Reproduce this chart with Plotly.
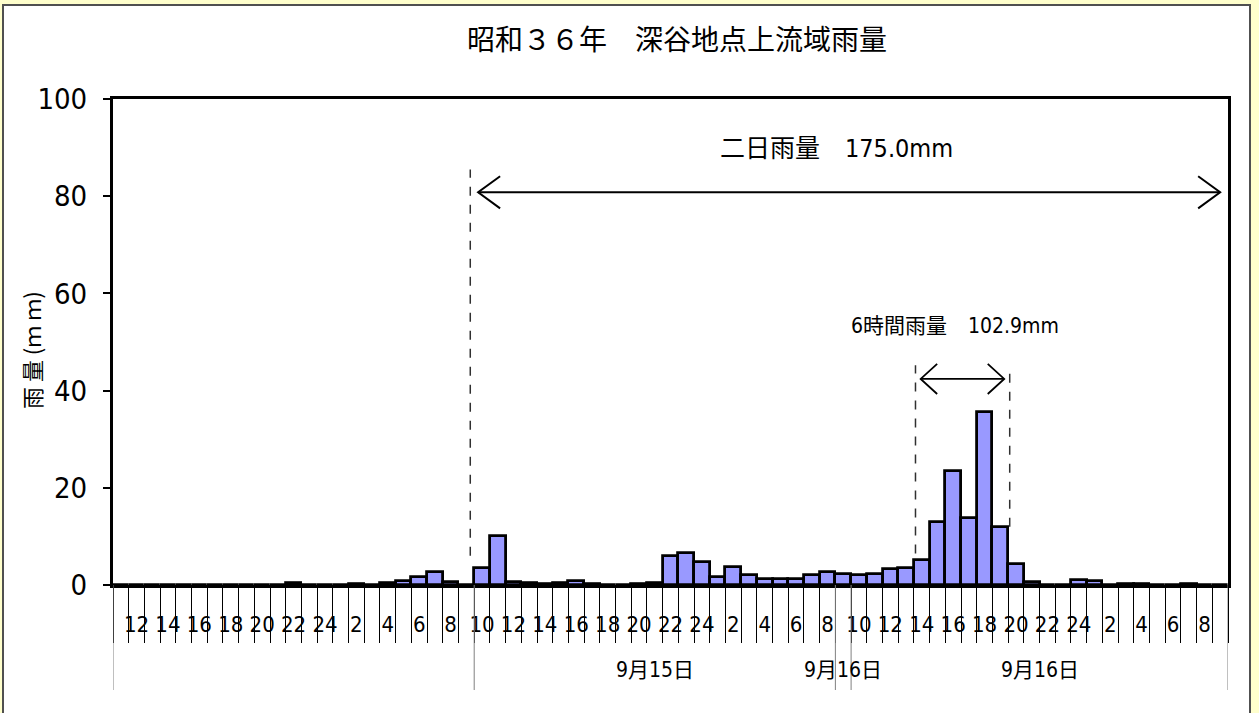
import plotly.graph_objects as go

# ---------------- data ----------------
# hour of each hourly slot (Sep 14 11h ... Sep 17 9h)
hours = [11, 12, 13, 14, 15, 16, 17, 18, 19, 20, 21, 22, 23, 24,
         1, 2, 3, 4, 5, 6, 7, 8, 9, 10, 11, 12, 13, 14, 15, 16, 17, 18, 19, 20, 21, 22, 23, 24,
         1, 2, 3, 4, 5, 6, 7, 8, 9, 10, 11, 12, 13, 14, 15, 16, 17, 18, 19, 20, 21, 22, 23, 24,
         1, 2, 3, 4, 5, 6, 7, 8, 9]

# hourly rainfall (mm)
rain = [0, 0, 0, 0, 0, 0, 0, 0, 0, 0, 0, 0.4, 0, 0,
        0, 0.2, 0, 0.4, 0.8, 1.6, 2.6, 0.6, 0, 3.6, 10.0, 0.6, 0.4, 0.3, 0.4, 0.8, 0.2, 0, 0, 0.2, 0.5, 6.0, 6.5, 4.8,
        1.6, 3.7, 2.1, 1.2, 1.2, 1.3, 2.1, 2.7, 2.2, 2.1, 2.2, 3.2, 3.4, 5.1, 13.0, 23.4, 13.8, 35.7, 11.9, 4.4, 0.6, 0, 0, 1.1,
        0.8, 0.1, 0.3, 0.2, 0, 0, 0.3, 0.1, 0]

# date groups on the second axis level (first slot, last slot, label)
group_labels = ["", "9月15日", "9月16日", "9月16日"]
group_first = [0, 23, 46, 47]
group_last = [22, 45, 46, 70]

title_text = "昭和３６年　深谷地点上流域雨量"
y_title = "雨 量 (ｍ ｍ)"
y_ticks = [0, 20, 40, 60, 80, 100]

# annotation periods (in slot units)
two_day_text = "二日雨量　175.0mm"
two_day_arrow = [22.75, 70.0]
two_day_level = 80.8
two_day_divider = 22.25
six_hour_text = "6時間雨量　102.9mm"
six_hour_arrow = [50.93, 56.25]
six_hour_level = 42.4
six_hour_dividers = [50.6, 56.6]

# ---------------- figure ----------------
NARROW = "Liberation Sans Narrow, Arial Narrow, DejaVu Sans Condensed, Noto Sans CJK JP"
CJK = "Noto Sans CJK JP"

n = len(hours)
slots = list(range(n))

fig = go.Figure()
fig.add_trace(go.Bar(
    x=slots, y=rain,
    marker=dict(color="#9999FF", line=dict(color="black", width=2.8)),
    hoverinfo="x+y",
))

tickvals = [i for i, h in enumerate(hours) if h % 2 == 0]
ticktext = [str(hours[i]) for i in tickvals]

W, H = 1259, 713
L, R, T, B = 113, 31, 99, 128
pw, ph = W - L - R, H - T - B

fig.update_layout(
    width=W, height=H,
    margin=dict(l=L, r=R, t=T, b=B),
    paper_bgcolor="#FFFFCC",
    plot_bgcolor="white",
    bargap=0,
    showlegend=False,
    title=dict(text=title_text, x=677 / W, xref="container", xanchor="center",
               y=1 - 40 / H, yref="container", yanchor="middle",
               font=dict(family=CJK, size=28, color="black")),
    xaxis=dict(
        range=[-0.5, n - 0.5], showgrid=False, zeroline=False,
        showline=True, linecolor="black", linewidth=3, mirror=True,
        ticks="", tickmode="array", tickvals=tickvals, ticktext=ticktext,
        tickfont=dict(family=NARROW, size=22, color="black"),
        ticklabelstandoff=18,
        minor=dict(tickmode="array", tickvals=[i - 0.5 for i in range(n + 1)],
                   ticks="outside", ticklen=55, tickwidth=1, tickcolor="black"),
    ),
    yaxis=dict(
        range=[0, 100], showgrid=False, zeroline=False,
        showline=True, linecolor="black", linewidth=3, mirror=True,
        ticks="outside", ticklen=7, tickwidth=2, tickcolor="black",
        tickmode="array", tickvals=y_ticks,
        tickfont=dict(family=NARROW, size=29, color="black"),
        ticklabelstandoff=10,
    ),
)

shapes = []
# white panel with dark top/left border
shapes.append(dict(type="rect", xref="paper", yref="paper",
                   x0=(3 - L) / pw, x1=(1250 - L) / pw,
                   y0=(T + ph - 730) / ph, y1=(T + ph - 5) / ph,
                   fillcolor="white", line=dict(color="#505050", width=2), layer="below"))

# long group divider lines below the axis
for b in sorted(set([f - 0.5 for f in group_first] + [group_last[-1] + 0.5])):
    shapes.append(dict(type="line", xref="x", yref="paper", x0=b, x1=b, y0=0, y1=-105 / ph,
                       line=dict(color="#808080", width=1)))

# dashed dividers
dash_line = dict(color="#303030", width=1.5, dash="dash")
shapes.append(dict(type="line", xref="x", yref="y", x0=two_day_divider, x1=two_day_divider,
                   y0=6, y1=85.5, line=dash_line))
shapes.append(dict(type="line", xref="x", yref="y", x0=six_hour_dividers[0], x1=six_hour_dividers[0],
                   y0=6.5, y1=45.2, line=dash_line))
shapes.append(dict(type="line", xref="x", yref="y", x0=six_hour_dividers[1], x1=six_hour_dividers[1],
                   y0=12, y1=45.2, line=dash_line))


def double_arrow(x0, x1, y, hx, hy, width):
    st = dict(color="black", width=width)
    out = [dict(type="line", xref="x", yref="y", x0=x0, x1=x1, y0=y, y1=y, line=st)]
    out.append(dict(type="path", xref="x", yref="y",
                    path=f"M {x0 + hx},{y + hy} L {x0},{y} L {x0 + hx},{y - hy}", line=st))
    out.append(dict(type="path", xref="x", yref="y",
                    path=f"M {x1 - hx},{y + hy} L {x1},{y} L {x1 - hx},{y - hy}", line=st))
    return out


shapes += double_arrow(two_day_arrow[0], two_day_arrow[1], two_day_level, 1.4, 3.3, 2)
shapes += double_arrow(six_hour_arrow[0], six_hour_arrow[1], six_hour_level, 1.05, 3.1, 1.8)
fig.update_layout(shapes=shapes)

ann = []
ann.append(dict(text=two_day_text, x=45.6, y=89.9, xref="x", yref="y", showarrow=False,
                font=dict(family=NARROW, size=25, color="black")))
ann.append(dict(text=six_hour_text, x=53.1, y=53.3, xref="x", yref="y", showarrow=False,
                font=dict(family=NARROW, size=21, color="black")))
for lab, f, l in zip(group_labels, group_first, group_last):
    if lab:
        ann.append(dict(text=lab, x=(f + l) / 2, y=-85 / ph, xref="x", yref="paper",
                        showarrow=False, yanchor="middle",
                        font=dict(family=NARROW, size=21, color="black")))
ann.append(dict(text=y_title, x=(31 - L) / pw, y=(T + ph - 350) / ph, xref="paper", yref="paper",
                showarrow=False, textangle=-90, xanchor="center", yanchor="middle",
                font=dict(family=CJK, size=22, color="black")))
fig.update_layout(annotations=ann)

fig.write_html("out.html", config={"displayModeBar": False},
               post_script="document.body.style.margin='0';")
